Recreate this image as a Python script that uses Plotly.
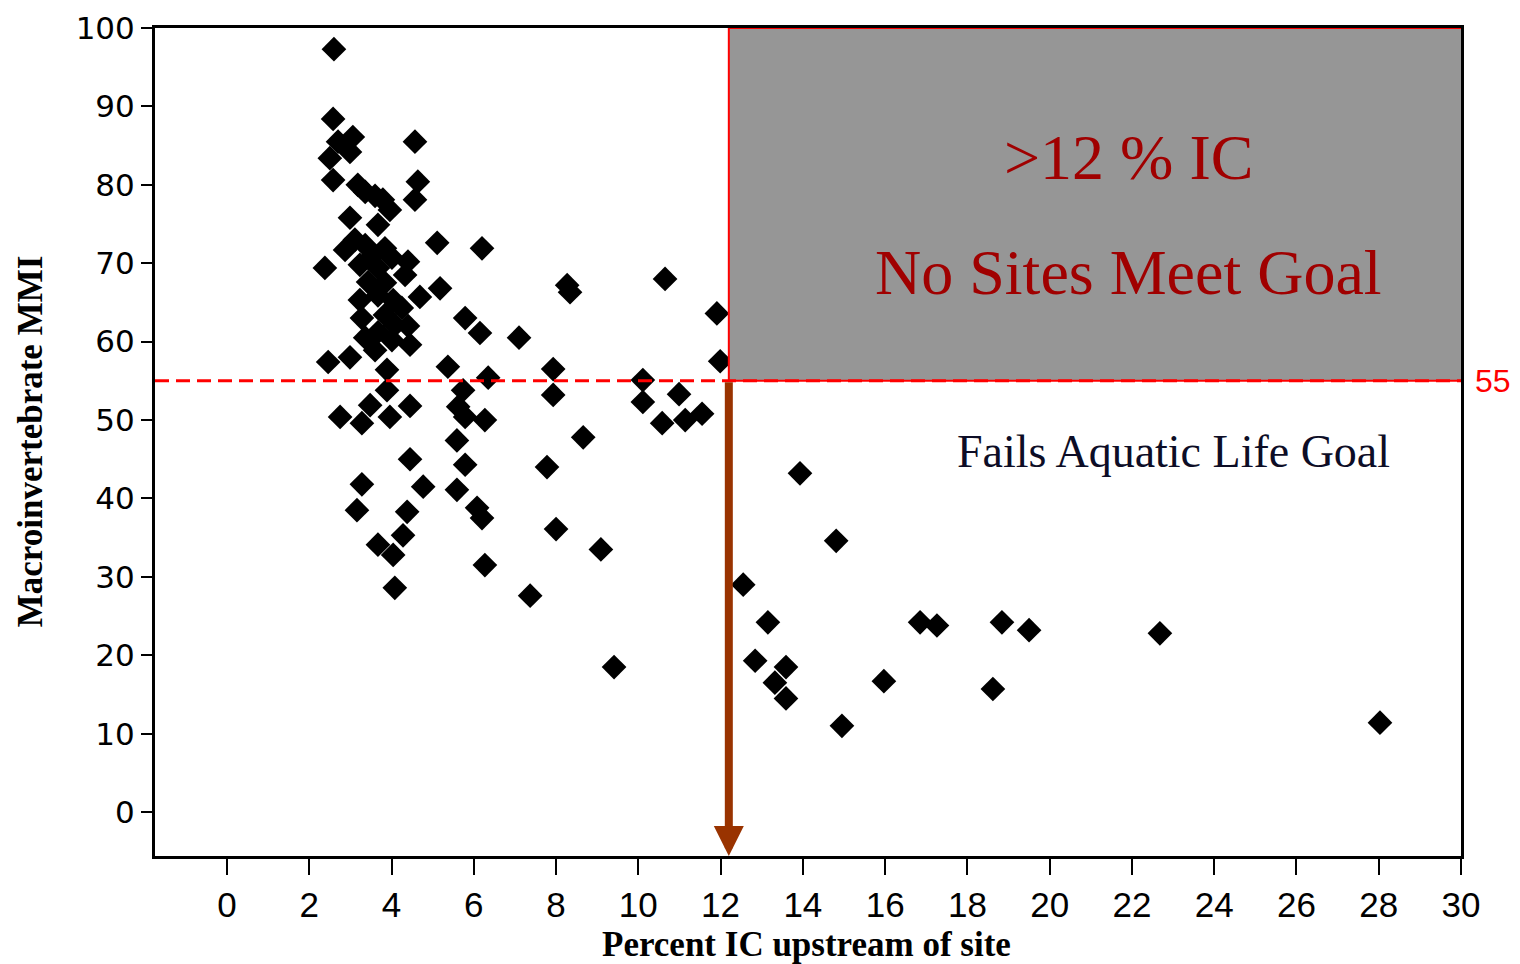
import plotly.graph_objects as go

# Percent impervious cover (IC) upstream of site vs macroinvertebrate MMI
ic_pct = [
    2.60, 2.58, 3.06, 2.70, 4.57, 2.50, 2.99, 2.58, 4.64, 3.18,
    3.36, 3.60, 3.79, 4.57, 2.99, 3.96, 3.67, 5.11, 6.20, 2.38,
    3.11, 2.87, 3.36, 3.53, 3.84, 3.23, 3.67, 4.01, 3.43, 3.84,
    4.40, 4.33, 5.18, 4.69, 3.23, 3.67, 4.04, 4.25, 3.84, 3.28,
    4.08, 4.40, 3.67, 4.45, 4.01, 3.60, 3.36, 5.79, 6.15, 2.46,
    2.99, 3.89, 5.37, 6.35, 5.74, 3.89, 3.48, 4.45, 2.75, 3.28,
    3.96, 5.62, 5.79, 6.27, 5.59, 5.79, 4.45, 3.28, 4.77, 5.59,
    3.16, 4.38, 6.08, 6.20, 4.28, 3.67, 4.04, 6.27, 4.08, 8.27,
    8.34, 10.65, 11.91, 7.10, 7.93, 11.99, 7.93, 10.11, 10.11, 10.99,
    10.58, 11.14, 11.55, 8.66, 7.78, 8.00, 9.09, 7.37, 9.41, 12.55,
    13.93, 14.81, 13.15, 16.85, 17.26, 18.84, 19.50, 12.84, 13.59, 13.32,
    13.59, 15.97, 18.62, 14.95, 22.68, 28.03,
]
mmi = [
    97.3, 88.4, 86.1, 85.5, 85.5, 83.4, 84.2, 80.6, 80.4, 80.0,
    79.1, 78.6, 78.1, 78.1, 75.8, 76.8, 74.9, 72.6, 71.9, 69.4,
    73.0, 71.7, 72.3, 70.9, 71.9, 69.8, 69.4, 70.7, 67.6, 67.5,
    70.2, 68.5, 66.8, 65.7, 65.3, 65.9, 65.3, 64.3, 63.4, 63.0,
    62.1, 62.0, 61.2, 59.6, 60.2, 58.9, 60.5, 63.0, 61.1, 57.4,
    58.0, 56.4, 56.8, 55.4, 53.8, 53.8, 51.9, 51.8, 50.4, 49.6,
    50.4, 51.7, 50.4, 50.0, 47.4, 44.3, 45.0, 41.8, 41.5, 41.1,
    38.5, 38.3, 38.8, 37.5, 35.3, 34.1, 32.8, 31.5, 28.6, 67.2,
    66.3, 68.0, 63.6, 60.5, 56.5, 57.5, 53.2, 55.1, 52.3, 53.3,
    49.6, 50.0, 50.8, 47.8, 44.0, 36.1, 33.5, 27.6, 18.5, 29.0,
    43.2, 34.6, 24.2, 24.2, 23.8, 24.2, 23.2, 19.3, 18.5, 16.5,
    14.5, 16.7, 15.7, 11.0, 22.8, 11.4,
]

goal_mmi = 55
ic_threshold = 12.2
x_ticks = list(range(0, 31, 2))
y_ticks = list(range(0, 101, 10))
x_range = [-1.75, 30]
y_range = [-5.6, 100]
x_title = "Percent IC upstream of site"
y_title = "Macroinvertebrate MMI"

fig = go.Figure()
fig.add_trace(go.Scatter(
    x=ic_pct, y=mmi, mode="markers",
    marker=dict(symbol="diamond", size=19, color="black", line=dict(width=0)),
    showlegend=False, hoverinfo="x+y",
))

# shaded region: >12 % IC above goal
fig.add_shape(type="rect", xref="x", yref="y",
              x0=ic_threshold, x1=x_range[1] + 0.05, y0=goal_mmi, y1=y_range[1],
              fillcolor="#969696", line=dict(color="#ff0000", width=2), layer="above")
# goal line
fig.add_shape(type="line", xref="x", yref="y",
              x0=x_range[0], x1=x_range[1] + 0.05, y0=goal_mmi, y1=goal_mmi,
              line=dict(color="#ff0000", width=3, dash="14px,7px"), layer="above")

# arrow from the threshold down to the axis
fig.add_annotation(x=ic_threshold, y=y_range[0], ax=ic_threshold, ay=goal_mmi,
                   xref="x", yref="y", axref="x", ayref="y", text="",
                   showarrow=True, arrowhead=2, arrowsize=0.75, arrowwidth=8,
                   arrowcolor="#993300", standoff=0, startstandoff=0)

fig.add_annotation(x=21.92, y=83.5, xref="x", yref="y", text=">12 % IC",
                   showarrow=False,
                   font=dict(family="Liberation Serif", size=64, color="#a00000"))
fig.add_annotation(x=21.92, y=68.8, xref="x", yref="y", text="No Sites Meet Goal",
                   showarrow=False,
                   font=dict(family="Liberation Serif", size=64, color="#a00000"))
fig.add_annotation(x=23.0, y=46.0, xref="x", yref="y", text="Fails Aquatic Life Goal",
                   showarrow=False,
                   font=dict(family="Liberation Serif", size=46, color="#0d0d26"))
fig.add_annotation(x=1, y=goal_mmi, xref="paper", yref="y", text=str(goal_mmi),
                   showarrow=False, xanchor="left", xshift=12,
                   font=dict(family="Liberation Sans Narrow, Liberation Sans", size=32, color="#ff0000"))

# axis titles
fig.add_annotation(x=14.09, y=0, xref="x", yref="paper", text=x_title,
                   showarrow=False, yanchor="middle", yshift=-88,
                   font=dict(family="Liberation Serif", size=35, color="black", weight="bold"))
fig.add_annotation(x=0, y=47.3, xref="paper", yref="y", text=y_title,
                   showarrow=False, xanchor="center", xshift=-125, textangle=-90,
                   font=dict(family="Liberation Serif", size=35, color="black", weight="bold"))

fig.update_layout(
    width=1504, height=956,
    margin=dict(l=147, r=51, t=20, b=108),
    plot_bgcolor="white", paper_bgcolor="white",
    showlegend=False,
)
fig.update_xaxes(
    range=x_range, tickvals=x_ticks, ticktext=[str(v) for v in x_ticks],
    showgrid=False, zeroline=False, automargin=False,
    showline=True, linecolor="black", linewidth=3, mirror=True,
    ticks="outside", ticklen=16, tickwidth=2, tickcolor="black",
    tickfont=dict(family="Liberation Sans Narrow, Liberation Sans", size=35, color="black"),
)
fig.update_yaxes(
    range=y_range, tickvals=y_ticks, ticktext=[str(v) for v in y_ticks],
    showgrid=False, zeroline=False, automargin=False,
    showline=True, linecolor="black", linewidth=3, mirror=True,
    ticks="outside", ticklen=11, tickwidth=2, tickcolor="black",
    tickfont=dict(family="DejaVu Sans", size=31, color="black"),
)

fig.write_html("out.html")
